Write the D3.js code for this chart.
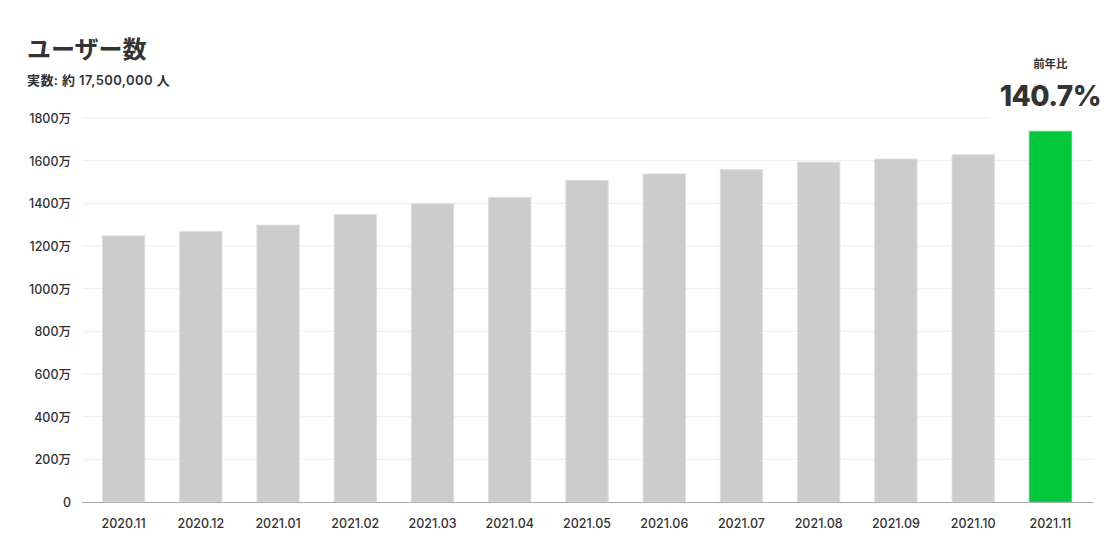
<!DOCTYPE html>
<html><head><meta charset="utf-8">
<script src="https://cdn.jsdelivr.net/npm/d3@7"></script>
<style>
body{margin:0;background:#fff;}
text{font-family:Inter,"Noto Sans CJK JP",sans-serif;fill:#333;}
</style></head>
<body><svg id="c" width="1120" height="560"></svg>
<script>
const categories = ["2020.11","2020.12","2021.01","2021.02","2021.03","2021.04","2021.05","2021.06","2021.07","2021.08","2021.09","2021.10","2021.11"];
const users = [1250,1270,1300,1350,1400,1430,1510,1540,1560,1595,1610,1630,1740];
const yTicks = [0,200,400,600,800,1000,1200,1400,1600,1800];
const titleText = "ユーザー数";
const subtitleText = "実数: 約 17,500,000 人";
const yoyLabel = "前年比";
const yoyValue = "140.7%";

const FONT = 'Inter,"Noto Sans CJK JP",sans-serif';
const svg = d3.select("#c");
const y = d3.scaleLinear().domain([0,1800]).range([502,118]);
const x = d3.scaleBand().domain(categories).range([85,1089]).paddingInner(0.44).paddingOuter(0.22);

// gridlines
svg.append("g").selectAll("line").data(yTicks.filter(d=>d>0)).join("line")
  .attr("x1",82).attr("x2",1093).attr("y1",d=>y(d)).attr("y2",d=>y(d))
  .attr("stroke","#eeeeee").attr("stroke-width",1);

// y axis labels
const yAxis = d3.axisLeft(y).tickValues(yTicks).tickSize(0).tickPadding(0)
  .tickFormat(d=>d===0?"0":d+"万");
const gy = svg.append("g").attr("transform","translate(71,0)").call(yAxis);
gy.select(".domain").remove();
gy.selectAll("text").attr("font-size",12.5).attr("font-weight",500).attr("fill","#333").attr("dy","0.35em")
  .style("font-family",FONT);

// bars
svg.append("g").selectAll("rect").data(users).join("rect")
  .attr("x",(d,i)=>x(categories[i])+0.5)
  .attr("width",x.bandwidth()-1)
  .attr("y",d=>y(d)+0.5)
  .attr("height",d=>y(0)-y(d)-0.5)
  .attr("fill",(d,i)=>i===users.length-1?"#00c73c":"#cccccc")
  .attr("stroke",(d,i)=>i===users.length-1?"#3fd96b":"#dddddd")
  .attr("stroke-width",1);

// x axis
const xAxis = d3.axisBottom(x).tickSize(0).tickPadding(0);
const gx = svg.append("g").attr("transform","translate(0,502)").call(xAxis);
gx.select(".domain").remove();
gx.selectAll("text").attr("font-size",12.5).attr("font-weight",500).attr("fill","#333").attr("y",26).attr("dy","0")
  .style("font-family",FONT);
svg.append("line").attr("x1",82).attr("x2",1093).attr("y1",502.5).attr("y2",502.5)
  .attr("stroke","#aaaaaa").attr("stroke-width",1);

// annotation backdrop
svg.append("rect").attr("x",990).attr("y",40).attr("width",130).attr("height",84).attr("fill","#fff");
const cx = x(categories[categories.length-1]) + x.bandwidth()/2;
svg.append("text").attr("x",cx).attr("y",68).attr("text-anchor","middle")
  .attr("font-size",11.5).attr("font-weight",700).text(yoyLabel);
svg.append("text").attr("x",cx).attr("y",106).attr("text-anchor","middle")
  .attr("font-size",28).attr("font-weight",800).attr("letter-spacing",-0.5).text(yoyValue);

// title
svg.append("text").attr("x",27).attr("y",58).attr("font-size",24).attr("font-weight",700).text(titleText);
svg.append("text").attr("x",27).attr("y",85).attr("font-size",13).attr("font-weight",600).attr("letter-spacing",0.4).text(subtitleText);
</script></body></html>
